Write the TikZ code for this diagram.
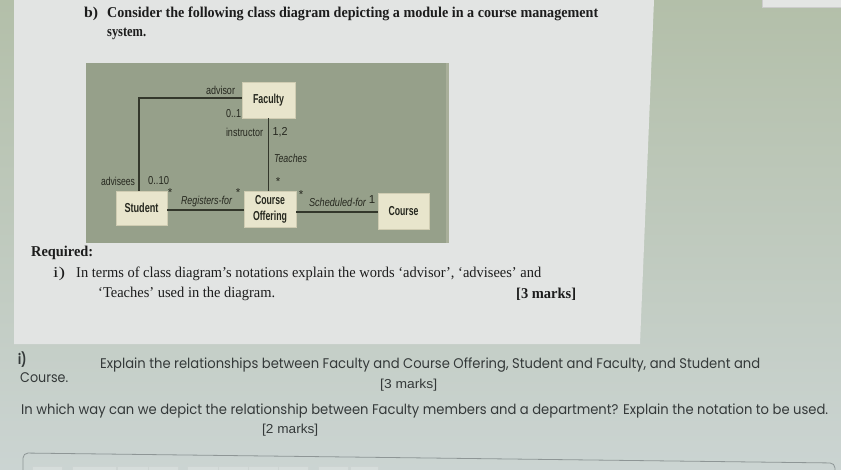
\documentclass[tikz,border=0pt]{standalone}
\usepackage{fontspec}
\usepackage{graphicx}
\setmainfont{Liberation Serif}
\newfontfamily\gothic{Poppins}
\newfontfamily\arial{Liberation Sans}
% force a text to a given width, keeping its natural height
\newcommand\fw[2]{\resizebox{#1pt}{\height}{#2}}
\definecolor{basetop}{HTML}{B3BFA9}
\definecolor{basebot}{HTML}{CBD4D2}
\definecolor{pagecol}{HTML}{E2E4E3}
\definecolor{diagbg}{HTML}{96A08A}
\definecolor{diagedge}{HTML}{A9AF9A}
\definecolor{boxfill}{HTML}{E8E5CC}
\definecolor{boxedge}{HTML}{CFCCB2}
\definecolor{linecol}{HTML}{33372B}
\definecolor{labcol}{HTML}{26281F}
\definecolor{serifcol}{HTML}{1C1C1C}
\definecolor{gothcol}{HTML}{343939}
\definecolor{outlinecol}{HTML}{8E9696}
\definecolor{tabcol}{HTML}{D6DDDB}
\begin{document}
\begin{tikzpicture}[x=1pt,y=-1pt,
  txt/.style={anchor=base west, inner sep=0pt},
  sertxt/.style={txt, text=serifcol, font=\fontsize{15}{17}\selectfont},
  gotxt/.style={txt, text=gothcol, font=\fontsize{14}{16}\selectfont\gothic},
  nartxt/.style={txt, text=gothcol, font=\fontsize{13}{15}\selectfont\arial},
  cls/.style={fill=boxfill, draw=boxedge, line width=0.4pt, inner sep=0pt,
    text=labcol, font=\fontsize{13}{16}\selectfont\arial\bfseries, align=center},
  lab/.style={inner sep=0pt, text=labcol, font=\fontsize{11.5}{13}\selectfont\arial},
  assoc/.style={draw=linecol, line width=1.6pt}]
\useasboundingbox (0,0) rectangle (841,469);
% backgrounds
\shade[top color=basetop, bottom color=basebot] (0,0) rectangle (841,469);
\fill[pagecol] (14,0) -- (654,0) -- (640,344) -- (14,344) -- cycle;
\fill[pagecol!95!white, draw=gray!40] (762,-1) rectangle (842,7);
% answer box outline and tabs
\draw[outlinecol, line width=0.8pt, rounded corners=5pt] (23,470) -- (23,453) -- (835,463) -- (835,470);
\foreach \a/\b in {32/62,72/116,117/148,148/178,187/218,218/248,248/278,278/308,318/348,350/378}
  \draw[tabcol!90!gray, fill=tabcol] (\a,466) rectangle (\b,470);
% diagram background
\fill[diagedge] (446,63) rectangle (449,243);
\fill[diagbg] (86,63) rectangle (446,243);
% classes
\node[cls, minimum width=53pt, minimum height=36pt] (faculty) at (268.5,100) {\fw{31}{Faculty}};
\node[cls, minimum width=51pt, minimum height=34pt] (student) at (141.5,208) {\fw{34}{Student}};
\node[cls, minimum width=52pt, minimum height=36pt] (co) at (270,209) {\fw{30}{Course}\\\fw{34}{Offering}};
\node[cls, minimum width=51pt, minimum height=36pt] (course) at (403.5,211) {\fw{30}{Course}};
% associations
\draw[assoc] ([xshift=-2.5pt]student.north) |- ([yshift=2pt]faculty.west);
\draw[assoc] (faculty.south) -- (faculty.south |- co.north);
\draw[assoc] ([yshift=-2pt]student.east) -- ([yshift=-2pt]student.east -| co.west);
\draw[assoc] ([yshift=-3pt]co.east) -- ([yshift=-3pt]co.east -| course.west);
% labels
\node[lab] (l1) at (220.5,90) {\fw{29}{advisor}};
\node[lab] (l2) at (233.5,114) {\fw{15}{0..1}};
\node[lab] (l3) at (244.5,132) {\fw{37}{instructor}};
\node[lab] (l4) at (280,132) {\fw{15}{1,2}};
\node[lab] (l5) at (290.5,158) {\fw{33}{\itshape Teaches}};
\node[lab] (l6) at (278,182) {*};
\node[lab] (l7) at (118,181) {\fw{34}{advisees}};
\node[lab] (l8) at (158.5,181) {\fw{21}{0..10}};
\node[lab] (l9) at (170,193) {*};
\node[lab] (l10) at (206.5,202) {\fw{51}{\itshape Registers-for}};
\node[lab] (l11) at (238,193) {*};
\node[lab] (l12) at (301,195) {*};
\node[lab] (l13) at (337.5,202) {\fw{57}{\itshape Scheduled-for}};
\node[lab] (l14) at (372,200) {1};
% top question text
\node[sertxt] (t1) at (84,17) {\fw{14}{\bfseries b)}};
\node[sertxt] (t2) at (107,17) {\fw{491}{\bfseries Consider the following class diagram depicting a module in a course management}};
\node[sertxt] (t3) at (107,36) {\fw{39}{\bfseries system.}};
\node[sertxt] (t4) at (31,256) {\fw{62}{\bfseries Required:}};
\node[sertxt] (t5) at (53,277) {\fw{12}{i)}};
\node[sertxt] (t6) at (76,277) {\fw{465}{In terms of class diagram’s notations explain the words ‘advisor’, ‘advisees’ and}};
\node[sertxt] (t7) at (98,297) {\fw{177}{‘Teaches’ used in the diagram.}};
\node[sertxt] (t8) at (516,298) {\fw{60}{\bfseries [3 marks]}};
% bottom question text
\node[gotxt] (b1) at (18,364) {\fw{8}{\bfseries i)}};
\node[gotxt] (b2) at (100,368) {\fw{660}{Explain the relationships between Faculty and Course Offering, Student and Faculty, and Student and}};
\node[gotxt] (b3) at (20,382) {\fw{48}{Course.}};
\node[nartxt] (b4) at (380,388) {\fw{57}{[3 marks]}};
\node[gotxt] (b5) at (21,414) {\fw{807}{In which way can we depict the relationship between Faculty members and a department? Explain the notation to be used.}};
\node[nartxt] (b6) at (262,433) {\fw{56}{[2 marks]}};
\end{tikzpicture}
\end{document}
